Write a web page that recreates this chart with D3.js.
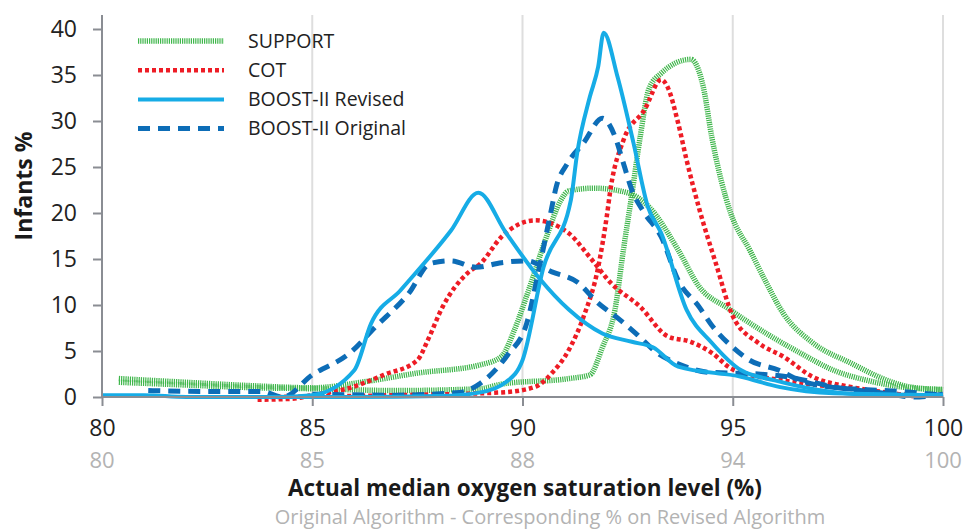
<!DOCTYPE html>
<html>
<head>
<meta charset="utf-8">
<script src="https://cdn.jsdelivr.net/npm/d3@7"></script>
<style>
  body { margin: 0; background: #fff; }
  svg text { font-family: "Open Sans", sans-serif; }
  .axis path, .axis line { stroke: #8a8d93; stroke-width: 2; }
  .axis text { fill: #222; }
</style>
</head>
<body>
<div id="chart"></div>
<script>
// x = actual median SpO2 (%), y = infants (%)
var supportLow = [[80.4,2.0],[82,1.6],[83.7,1.2],[85,1.0],[86.3,1.7],[87.5,2.6],[89,3.5],[89.5,4.4],[89.8,7.2],[90.1,11],[90.6,17.8],[90.9,21.3],[91.1,22.4],[91.7,22.7],[92.5,22.2],[93,20.7],[93.7,16.0],[94.2,12.0],[94.9,9.6],[95.8,6.9],[96.6,4.8],[97.4,2.9],[98.2,1.8],[99,1.1],[100,0.8]];
var supportHigh = [[80.4,1.6],[82,1.3],[83.7,1.0],[85,0.9],[87,0.7],[89,0.9],[89.5,1.4],[91.1,2.0],[91.6,2.4],[91.9,5.4],[92.2,9.5],[92.4,16.0],[92.6,22],[92.8,28.3],[93,33.4],[93.3,35.2],[94,36.7],[94.3,33.7],[94.5,28.3],[94.95,20],[95.4,16.0],[95.8,12.4],[96.2,9.1],[96.9,5.9],[97.8,3.7],[98.8,1.6],[99.2,1.1],[100,0.8]];
var cotLow = [[83.7,-0.3],[84.5,-0.2],[85,0.2],[85.9,1.0],[86.7,2.4],[87.5,4.0],[87.75,6.2],[88.1,9.8],[88.7,13.5],[89,14.5],[89.5,17.4],[90.3,19.2],[91.1,17.8],[91.6,15.2],[92.1,12.4],[92.8,9.8],[93.45,6.6],[94,6.0],[94.5,4.8],[95,3.0],[96.2,1.8],[97.4,1.1],[98.6,0.5],[99.3,0.1]];
var cotHigh = [[84,0],[87,0.2],[89.5,0.5],[90.3,1.1],[90.7,2.6],[91.1,5.1],[91.45,8.7],[91.8,14.1],[92,19.5],[92.1,22.8],[92.4,27.9],[92.9,31.2],[93.3,34.5],[93.45,33.7],[93.7,29.8],[93.9,25.8],[94.2,20.5],[94.6,14.5],[95,8.8],[95.6,5.9],[96.2,4.4],[96.9,2.2],[97.8,1.1],[98.8,0.4],[99.3,0.1]];
var revisedLow = [[80,0.2],[81,0.2],[82,0],[84,0],[85,0.2],[86,2.9],[86.4,8.0],[87.1,11.6],[88.3,18.1],[88.95,22.2],[89.6,17.9],[90.4,12.9],[91.1,9.5],[91.9,6.9],[92.6,6.0],[93.1,5.4],[93.7,3.3],[95.2,2.2],[96.1,1.1],[97.4,0.4],[100,0.2]];
var revisedHigh = [[84,0],[86,0],[88,0.1],[89,0.5],[89.6,1.6],[90,4.0],[90.5,14.1],[91.15,21.4],[91.3,26.5],[91.6,32.6],[91.8,35.9],[91.93,39.6],[92.26,34.8],[92.64,27.6],[92.98,20.7],[93.3,17.8],[93.9,9.5],[94.5,5.9],[95.2,2.9],[96,1.8],[97,0.8],[98,0.3],[100,0.2]];
var originalLow = [[81.1,0.7],[82.5,0.6],[83.8,0.6],[84.3,0],[85,2.4],[85.9,4.8],[86.5,7.6],[87.3,11.3],[87.8,14.5],[88.3,14.8],[88.9,14.1],[89.5,14.6],[90.1,14.8],[90.7,13.6],[91.3,12.5],[91.8,10.2],[92.26,8.6],[92.7,6.9],[93.2,4.8],[93.76,3.5],[94.4,2.7],[95.6,2.5],[96.3,2.2],[97.4,1.1],[98.6,0.4],[99.3,0],[100,0.3]];
var originalHigh = [[85,0.3],[87,0.2],[88.5,0.5],[89,1.5],[89.65,4.6],[90.1,8.0],[90.4,14.1],[90.67,20.0],[90.8,22.8],[91.07,25.4],[91.45,27.6],[91.9,30.3],[92.2,28.3],[92.4,25.4],[92.6,22.5],[92.9,20.0],[93.3,17.4],[93.7,12.7],[94.2,9.8],[94.5,7.8],[95,5.4],[95.4,4.0],[96.1,2.9],[96.6,1.8],[97.3,1.1],[98.2,0.8],[99,0.6],[100,0.2]];

var legendNames = ["SUPPORT", "COT", "BOOST-II Revised", "BOOST-II Original"];
var yTicks = [0, 5, 10, 15, 20, 25, 30, 35, 40];
var xTicks = [80, 85, 90, 95, 100];
var xTicksRevised = ["80", "85", "88", "94", "100"];

var styles = [
  {color: "#3fb64b", width: 5.5, dash: "1.2,1"},
  {color: "#ee1c25", width: 4.5, dash: "4,3"},
  {color: "#16ace6", width: 4, dash: null},
  {color: "#0d6db7", width: 5, dash: "12,8"}
];
var series = [
  {data: supportLow, s: 0}, {data: supportHigh, s: 0},
  {data: cotLow, s: 1}, {data: cotHigh, s: 1},
  {data: originalLow, s: 3}, {data: originalHigh, s: 3},
  {data: revisedLow, s: 2}, {data: revisedHigh, s: 2}
];

var svg = d3.select("#chart").append("svg")
    .attr("width", 967)
    .attr("height", 529),
    margin = {top: 15, left: 102},
    width = 841,
    height = 382;

var x = d3.scaleLinear().domain([80, 100]).range([0, width]);
var y = d3.scaleLinear().domain([0, 40]).range([height, height - 40 * 9.2]);

var g = svg.append("g")
    .attr("transform", "translate(" + margin.left + "," + margin.top + ")");

// vertical gridlines
g.selectAll(".grid")
    .data(xTicks.slice(1))
  .enter().append("line")
    .attr("x1", function(d) { return x(d); })
    .attr("x2", function(d) { return x(d); })
    .attr("y1", 0)
    .attr("y2", height)
    .attr("stroke", "#dedede")
    .attr("stroke-width", 2);

var line = d3.line()
    .x(function(d) { return x(d[0]); })
    .y(function(d) { return y(d[1]); })
    .curve(d3.curveMonotoneX);

g.selectAll(".series")
    .data(series)
  .enter().append("path")
    .attr("fill", "none")
    .attr("stroke", function(d) { return styles[d.s].color; })
    .attr("stroke-width", function(d) { return styles[d.s].width; })
    .attr("stroke-dasharray", function(d) { return styles[d.s].dash; })
    .attr("stroke-linejoin", "round")
    .attr("d", function(d) { return line(d.data); });

// axes
var yAxis = g.append("g")
    .attr("class", "axis")
    .call(d3.axisLeft(y).tickValues(yTicks).tickSize(9).tickPadding(16));
yAxis.select(".domain").attr("d", "M0,0V" + height);
yAxis.selectAll("text").style("font-size", "23px");

var xAxis = g.append("g")
    .attr("class", "axis")
    .attr("transform", "translate(0," + height + ")")
    .call(d3.axisBottom(x).tickValues(xTicks).tickSize(9).tickPadding(14).tickFormat(d3.format("d")));
xAxis.select(".domain").attr("d", "M0,0H" + width);
xAxis.selectAll("text").style("font-size", "23px");

g.selectAll(".rev")
    .data(xTicks)
  .enter().append("text")
    .attr("x", function(d) { return x(d); })
    .attr("y", height + 71)
    .attr("text-anchor", "middle")
    .style("font-size", "22px")
    .attr("fill", "#b3b3b3")
    .text(function(d, i) { return xTicksRevised[i]; });

svg.append("text")
    .attr("x", 525)
    .attr("y", 496)
    .attr("text-anchor", "middle")
    .style("font-size", "22.5px")
    .style("font-weight", "bold")
    .attr("fill", "#1a1a1a")
    .text("Actual median oxygen saturation level (%)");

svg.append("text")
    .attr("x", 550)
    .attr("y", 524)
    .attr("text-anchor", "middle")
    .style("font-size", "20px")
    .attr("fill", "#b3b3b3")
    .text("Original Algorithm - Corresponding % on Revised Algorithm");

svg.append("text")
    .attr("transform", "translate(32,186) rotate(-90)")
    .attr("text-anchor", "middle")
    .style("font-size", "23px")
    .style("font-weight", "bold")
    .attr("fill", "#1a1a1a")
    .text("Infants %");

// legend
var legend = svg.selectAll(".legend")
    .data(legendNames)
  .enter().append("g")
    .attr("transform", function(d, i) { return "translate(138," + (41 + i * 29.2) + ")"; });

legend.append("line")
    .attr("x1", 0)
    .attr("x2", 86)
    .attr("stroke", function(d, i) { return styles[i].color; })
    .attr("stroke-width", function(d, i) { return styles[i].width; })
    .attr("stroke-dasharray", function(d, i) { return styles[i].dash; });

legend.append("text")
    .attr("x", 110)
    .attr("dy", "0.35em")
    .style("font-size", "19.5px")
    .attr("fill", "#222")
    .text(function(d) { return d; });
</script>
</body>
</html>
